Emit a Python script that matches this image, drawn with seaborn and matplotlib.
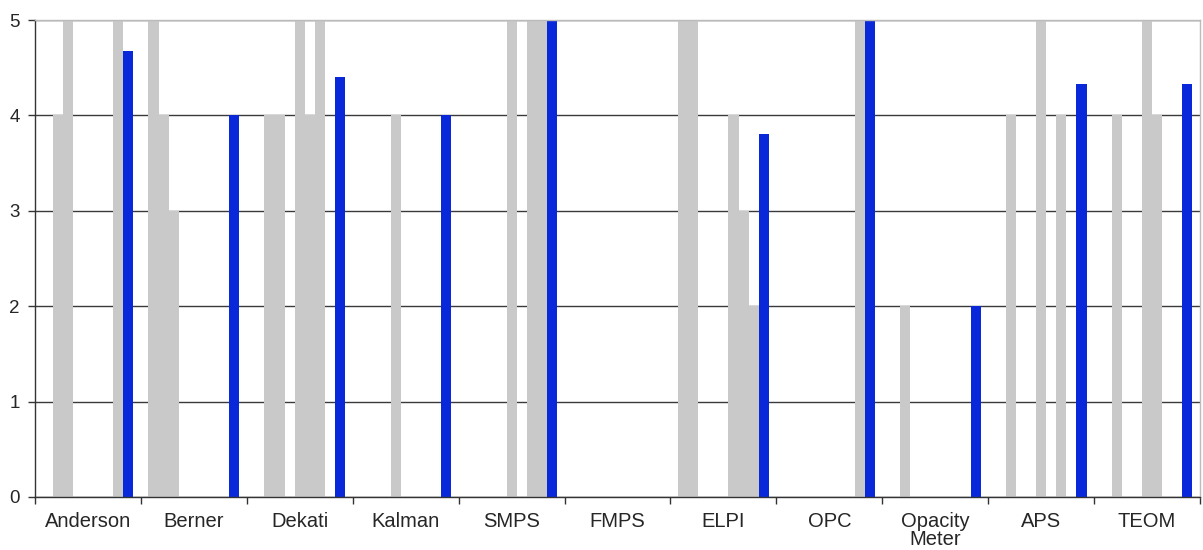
import numpy as np
import pandas as pd
import matplotlib
matplotlib.use("Agg")
import matplotlib.pyplot as plt
import seaborn as sns

sns.set_style("white")
plt.rcParams['font.family'] = ['Liberation Sans', 'DejaVu Sans']

# instruments
categories = ["Anderson", "Berner", "Dekati", "Kalman", "SMPS", "FMPS",
              "ELPI", "OPC", "Opacity\nMeter", "APS", "TEOM"]

# scores given by each of the 8 evaluators (0 = no score)
eval_1 = [0, 5, 0, 0, 0, 0, 5, 0, 0, 0, 0]
eval_2 = [4, 4, 4, 0, 0, 0, 5, 0, 2, 4, 4]
eval_3 = [5, 3, 4, 0, 0, 0, 0, 0, 0, 0, 0]
eval_4 = [0, 0, 0, 4, 0, 0, 0, 0, 0, 0, 0]
eval_5 = [0, 0, 5, 0, 5, 0, 0, 0, 0, 5, 5]
eval_6 = [0, 0, 4, 0, 0, 0, 4, 0, 0, 0, 4]
eval_7 = [0, 0, 5, 0, 5, 0, 3, 0, 0, 4, 0]
eval_8 = [5, 0, 0, 0, 5, 0, 2, 5, 0, 0, 0]
# average score
average = [4.67, 4.0, 4.4, 4.0, 5.0, 0.0, 3.8, 5.0, 2.0, 4.33, 4.33]

series = {"E1": eval_1, "E2": eval_2, "E3": eval_3, "E4": eval_4,
          "E5": eval_5, "E6": eval_6, "E7": eval_7, "E8": eval_8,
          "Average": average}

rows = []
for name, vals in series.items():
    for cat, v in zip(categories, vals):
        rows.append({"instrument": cat, "series": name, "score": v})
df = pd.DataFrame(rows)

grey = "#C9C9C9"
blue = "#0828DA"
palette = [grey] * 8 + [blue]

fig = plt.figure(figsize=(12.03, 5.5), dpi=100)
ax = fig.add_axes([0.0291, 0.0964, 0.9684, 0.8672])

# saturation=1 so the blue stays as strong as in the original
sns.barplot(data=df, x="instrument", y="score", hue="series", order=categories,
            hue_order=list(series.keys()), palette=palette, width=9 / 10.5,
            saturation=1, linewidth=0, errorbar=None, legend=False, ax=ax)

ax.set_xlim(-0.5, len(categories) - 0.5)
ax.set_ylim(0, 5)
ax.set_yticks(range(0, 6))
ax.set_xlabel("")
ax.set_ylabel("")

# horizontal grid lines behind the bars
ax.set_axisbelow(True)
ax.yaxis.grid(True, color="#3a3a3a", linewidth=1.0)
ax.xaxis.grid(False)

for side in ["left", "bottom"]:
    ax.spines[side].set_color("#333333")
    ax.spines[side].set_linewidth(1.0)
for side in ["top", "right"]:
    ax.spines[side].set_visible(True)
    ax.spines[side].set_color("#BBBBBB")
    ax.spines[side].set_linewidth(1.0)

# tick marks between groups, labels at group centres
ax.set_xticks(np.arange(-0.5, len(categories)), minor=True)
ax.tick_params(axis="x", which="major", length=0, labelsize=14.5, pad=11)
ax.tick_params(axis="x", which="minor", length=5, width=1, color="#333333", direction="out", bottom=True)
ax.tick_params(axis="y", length=5, width=1, color="#333333", direction="out", left=True,
               labelsize=13.5, pad=6)
for lab in ax.get_xticklabels():
    lab.set_linespacing(0.9)

fig.savefig("out.png", dpi=100)
